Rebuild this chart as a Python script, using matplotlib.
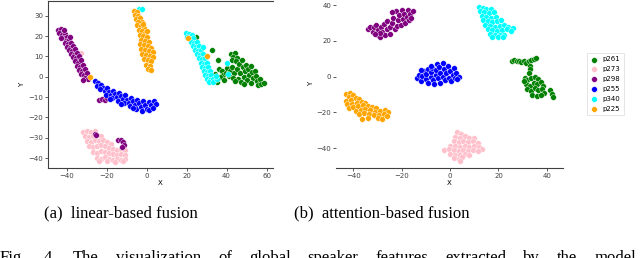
import matplotlib
matplotlib.use("Agg")
import matplotlib.pyplot as plt
import numpy as np

# speakers in legend order and their colours
speakers = ["p261", "p273", "p298", "p255", "p340", "p225"]
colors = ["green", "pink", "purple", "blue", "cyan", "orange"]

# ---- (a) linear-based fusion: t-SNE points ----
lin_p261 = np.array([
    (42, 11), (44, 11.5), (43, 9.5), (45, 9), (42.5, 8), (44.5, 7.5), (36, 4), (37.5, 3),
    (38, 1), (36.5, 0), (39.5, 2), (40, 4.5), (41.5, 3), (41, 0.5), (42.5, 5), (43.5, 2),
    (43, -0.5), (45, 4), (46, 6.5), (47.5, 8), (48, 5), (46.5, 2), (45.5, -1), (47, -2.5),
    (49, 3), (48.5, 0), (49.5, 6), (50.5, 4), (51, 1), (50, -1.5), (52, 5.5), (52.5, 2.5),
    (53, -0.5), (52, -3), (54, 3), (54.5, 0.5), (55, -2), (55.5, -4), (56.5, -1), (57, -3.5),
    (58.5, -3), (48.5, -3.5), (44, -2), (38.5, -1.5), (33, -2), (34, 1.5),
    (24.7, 19.4), (32.5, 13.2), (35.8, 8.4), (35, -2.5),
])
lin_p273 = np.array([
    (-32, -27), (-30, -26.5), (-28, -27), (-26, -26.5), (-31, -29), (-29, -29.5), (-27, -29),
    (-25, -28.5), (-23, -29), (-30, -31.5), (-28, -32), (-26, -31), (-24, -31.5), (-22, -31),
    (-20, -32), (-18, -33), (-29, -34), (-27, -34.5), (-25, -34), (-23, -33.5), (-21, -34),
    (-19, -35), (-17, -35.5), (-15, -36), (-13, -35.5), (-11, -36), (-27, -37), (-25, -37.5),
    (-23, -36.5), (-21, -37), (-19, -37.5), (-17, -38), (-15, -38.5), (-13, -38), (-11, -38.5),
    (-25, -40), (-23, -40.5), (-21, -39.5), (-19, -40.5), (-17, -41), (-15, -40.5), (-13, -41),
    (-11, -40.5), (-24, -41.5), (-20, -41.5), (-16, -41.8), (-12, -41.5), (-33, 11.6),
])
lin_p298 = np.array([
    (-44.5, 23), (-43, 23.5), (-42, 22), (-44, 21.5), (-42.5, 20.5), (-41, 21), (-41.5, 19),
    (-40, 19.5), (-43, 19), (-40.5, 17.5), (-39, 18), (-41, 16.5), (-39.5, 16), (-38, 16.5),
    (-40, 14.5), (-38.5, 14), (-37, 15), (-39, 13), (-37.5, 12.5), (-36, 13.5), (-38, 11),
    (-36.5, 10.5), (-35, 11.5), (-37, 9.5), (-35.5, 9), (-34, 10), (-36, 7.5), (-34.5, 7),
    (-33, 8), (-35, 5.5), (-33.5, 5), (-32, 6), (-34, 3.5), (-32.5, 3), (-31, 4), (-33, 1.5),
    (-31.5, 1), (-30, 2), (-31, -0.5), (-29.5, -1), (-32, -1.5), (-41.5, 23), (-38.5, 19.5),
    (-24, -11.5), (-22.5, -11), (-21, -11.5), (-20, -10.5),
    (-26, -28), (-25.5, -28.5), (-14.5, -31), (-13, -31), (-12, -32), (-11.5, -33.5), (-12.5, -34.5),
])
lin_p255 = np.array([
    (-26, -2), (-24.5, -3), (-25, -4.5), (-23, -4), (-22, -5.5), (-23.5, -6), (-21, -7),
    (-20, -5.5), (-19, -7.5), (-20.5, -9), (-18, -9), (-17, -7), (-16, -8.5), (-17.5, -10.5),
    (-15, -10), (-14, -8), (-13, -9.5), (-14.5, -12), (-12, -11), (-11, -9), (-10, -11.5),
    (-11.5, -13), (-9, -13), (-8, -10.5), (-7, -12), (-8.5, -14.5), (-6, -14), (-5, -11.5),
    (-4, -13), (-5.5, -16), (-3, -15), (-2, -12), (-1, -14), (-2.5, -17), (0, -16), (1, -12.5),
    (2, -14), (1, -16.5), (3.5, -12), (4.5, -13.5), (3, -15.5), (-18.5, -11), (-13, -13.5),
    (-7, -15.5),
])
lin_p340 = np.array([
    (19.5, 21.5), (21, 21), (22.5, 20.5), (20, 19.5), (21.5, 18.5), (23, 19), (22, 17),
    (23.5, 16.5), (25, 17), (23, 15), (24.5, 14.5), (26, 15), (24, 13), (25.5, 12.5), (27, 13),
    (28, 14.5), (25, 11), (26.5, 10.5), (28, 11), (26, 9), (27.5, 8.5), (29, 9), (27, 7),
    (28.5, 6.5), (30, 7), (27.5, 5), (29, 4.5), (30.5, 5), (28.5, 3), (30, 2.5), (31.5, 3),
    (29, 1), (30.5, 0.5), (32, 1), (30, -1), (31.5, -1.5), (33, -1), (31, -2.5), (33, -2.5),
    (35, -1), (34.5, 0.5), (40, 6.7), (40.5, 1.4), (-4, 33.5), (-2.5, 33.5),
])
lin_p225 = np.array([
    (-6.5, 32.5), (-5, 32), (-6, 30.5), (-4.5, 30), (-5.5, 28.5), (-3.5, 29), (-2.5, 27),
    (-4.5, 27), (-5, 25.5), (-3, 25), (-1.5, 24), (-4, 23), (-2.5, 22.5), (-1, 21.5),
    (-3.5, 20.5), (-2, 20), (0, 19.5), (-3, 18), (-1, 17.5), (1, 17), (-3.5, 16), (-1.5, 15.5),
    (0.5, 15), (2, 14), (-3, 13.5), (-1, 13), (1, 12.5), (3, 12), (-2.5, 11), (-0.5, 10.5),
    (1.5, 10), (3, 9.5), (-1.5, 8.5), (0.5, 8), (2, 7.5), (-0.5, 6), (1.5, 5.5), (0.5, 4),
    (2, 3.5), (-2, 26), (0, 22.5), (-28.3, -0.3), (20.5, 18.8), (30.3, 10.1),
])

# ---- (b) attention-based fusion ----
att_p261 = np.array([
    (25.5, 9), (26.5, 9.5), (27.5, 8.5), (28.5, 9), (29.5, 8), (30.5, 8.5), (31.5, 7.5),
    (32.5, 8.5), (33.5, 9.5), (34.5, 10), (35.5, 10.5), (33, 6), (33, 4), (32.5, 2), (31, -0.5),
    (32, -2), (33.5, -1), (35, 0), (36.5, -1.5), (31.5, -4), (33, -5), (34.5, -3.5), (36, -4),
    (37.5, -3), (38.5, -5), (32, -7), (33.5, -8), (35, -6.5), (36.5, -7.5), (38, -7), (39, -9),
    (34, -10.5), (36, -11), (37.5, -10), (41.5, -7.5), (42, -9.5), (42.5, -11.5), (30.5, -2.5),
])
att_p273 = np.array([
    (3, -31), (4.5, -32), (2, -33.5), (4, -34), (6, -33), (8, -34.5), (10, -34), (1.5, -36),
    (3.5, -36.5), (5.5, -36), (7.5, -36.5), (9.5, -36), (11.5, -37), (0, -38.5), (2, -38.5),
    (4, -39), (6, -38.5), (8, -39), (10, -38.5), (12, -39), (13, -40.5), (-2.5, -41),
    (-0.5, -40.5), (1.5, -41), (3.5, -41.5), (5.5, -41), (7.5, -41.5), (9.5, -41), (11.5, -41.5),
    (0, -43), (2, -43.5), (4, -43.5), (6, -43), (8, -43.5), (1.5, -45.5), (3.5, -46), (5, -45),
    (4, -47),
])
att_p298 = np.array([
    (-34, 26.5), (-33, 28), (-32, 25), (-31.5, 27.5), (-30.5, 29), (-30, 23.5), (-30, 26),
    (-29, 22), (-28.5, 27.5), (-28, 25), (-27.5, 29.5), (-27, 23), (-26, 26.5), (-26, 31),
    (-25, 28), (-25, 24), (-24, 30), (-23.5, 33), (-23, 26.5), (-22.5, 36.5), (-22, 28.5),
    (-21.5, 31.5), (-21, 34.5), (-20.5, 29), (-20, 37), (-19.5, 32), (-19, 35), (-18.5, 30),
    (-18, 33.5), (-17.5, 37), (-17, 31.5), (-16.5, 35), (-16, 33), (-15.5, 36.5), (-24, 36),
    (-29, 24.5), (-31, 24),
])
att_p255 = np.array([
    (-13.5, -1), (-13, 1), (-12, -2.5), (-11.5, 0.5), (-11, 3), (-10, -1.5), (-10, 1.5),
    (-9, 4), (-9, -3.5), (-8, 0), (-8, 2.5), (-7.5, 5), (-7, -2), (-6.5, -4), (-6, 1),
    (-6, 3.5), (-5.5, 7), (-5, -1), (-4.5, 5.5), (-4, 2), (-4, -3.5), (-3, 0), (-3, 7.5),
    (-2.5, 4), (-2, -2), (-1.5, 2), (-1, 6), (-0.5, -0.5), (0, 3), (0.5, -2.5), (1, 1),
    (1.5, 5), (2, -1), (2.5, 2), (3.5, 0), (3, -1.5), (-8, 6), (-12, 3.5),
])
att_p340 = np.array([
    (12, 39), (13.5, 38.5), (15, 38), (17, 37.5), (12.5, 36.5), (14, 36), (16, 35.5), (18, 36),
    (13, 34), (15, 33.5), (17, 33), (19, 33.5), (13.5, 31.5), (15.5, 31), (17.5, 30.5),
    (19.5, 31), (21, 31.5), (14.5, 29), (16.5, 28.5), (18.5, 28), (20.5, 28.5), (22.5, 29),
    (24, 28), (26, 27), (15.5, 26.5), (17.5, 26), (19.5, 25.5), (21.5, 26), (23.5, 26.5),
    (25, 25.5), (16.5, 24), (18.5, 23.5), (20.5, 23), (22.5, 23.5), (17.5, 22), (20, 22), (22, 22),
])
att_p225 = np.array([
    (-43, -9.5), (-41.5, -9), (-42, -11.5), (-40, -10.5), (-43, -13.5), (-41, -13), (-39, -12),
    (-37.5, -12.5), (-42.5, -15.5), (-40.5, -15), (-38.5, -14.5), (-36.5, -14), (-35, -14.5),
    (-42, -17.5), (-40, -17), (-38, -16.5), (-36, -16), (-34, -16.5), (-32.5, -17), (-30.5, -17.5),
    (-39, -19), (-37, -18.5), (-35, -18), (-33, -18.5), (-31, -19.5), (-29, -19), (-27, -18.5),
    (-25.5, -20), (-37.5, -21), (-35.5, -20.5), (-33.5, -21), (-31.5, -21.5), (-29.5, -21.5),
    (-27.5, -21), (-26, -22), (-36.5, -23.5), (-34, -23), (-30, -23), (-28, -23.5),
])

lin_sets = [lin_p261, lin_p273, lin_p298, lin_p255, lin_p340, lin_p225]
att_sets = [att_p261, att_p273, att_p298, att_p255, att_p340, att_p225]

lin_xticks = [-40, -20, 0, 20, 40, 60]
lin_yticks = [30, 20, 10, 0, -10, -20, -30, -40]
att_xticks = [-40, -20, 0, 20, 40]
att_yticks = [40, 20, 0, -20, -40]

fig_caption = "Fig. 4.  The visualization of global speaker features extracted by the model"


def scatter_panel(ax, sets):
    """Draw the six speaker clusters."""
    handles = []
    for pts, c, name in zip(sets, colors, speakers):
        h = ax.scatter(pts[:, 0], pts[:, 1], s=17, color=c, edgecolor='white',
                       linewidth=0.3, label=name)
        handles.append(h)
    return handles


def style_axes(ax, xticks, yticks):
    ax.set_xticks(xticks)
    ax.set_yticks(yticks)
    ax.tick_params(labelsize=5, length=2, width=0.6, pad=1.5, colors='0.25')
    ax.set_xlabel('X', fontsize=5, labelpad=1)
    ax.set_ylabel('Y', fontsize=5, labelpad=2)
    for sp in ax.spines.values():
        sp.set_color('0.25')
        sp.set_linewidth(0.8)


fig = plt.figure(figsize=(6.4, 2.58), dpi=100)

# left panel
ax1 = fig.add_axes([48 / 640, 1 - 168 / 258, 225 / 640, 167 / 258])
scatter_panel(ax1, lin_sets)
ax1.set_xlim(-49.3, 63.2)
ax1.set_ylim(-44.8, 37.2)
style_axes(ax1, lin_xticks, lin_yticks)
ax1.spines['right'].set_visible(False)

# right panel
ax2 = fig.add_axes([336 / 640, 1 - 168 / 258, 227 / 640, 168 / 258])
handles = scatter_panel(ax2, att_sets)
ax2.set_xlim(-47.2, 46.7)
ax2.set_ylim(-51, 42.8)
style_axes(ax2, att_xticks, att_yticks)
for side in ['left', 'top', 'right']:
    ax2.spines[side].set_visible(False)

leg = fig.legend(handles=handles, loc='center left', bbox_to_anchor=(587 / 640, 1 - 84 / 258),
                 fontsize=5, markerscale=1.0, handlelength=1.0, handletextpad=0.7,
                 labelspacing=0.55, frameon=True, fancybox=False, borderpad=0.5,
                 borderaxespad=0.0)
leg.get_frame().set_edgecolor('0.85')
leg.get_frame().set_linewidth(0.6)

# captions
serif = 'Liberation Serif'
fig.text(121 / 640, 1 - 213 / 258, '(a)  linear-based fusion', ha='center', va='center',
         fontsize=12, family=serif)
fig.text(382 / 640, 1 - 213 / 258, '(b)  attention-based fusion', ha='center', va='center',
         fontsize=12, family=serif)

# justified figure caption line, cut by the bottom edge as in the page scan
words = fig_caption.split()
fig.canvas.draw()
renderer = fig.canvas.get_renderer()
items = [fig.text(0, 0, w, fontsize=12, family=serif, va='baseline') for w in words]
widths = [t.get_window_extent(renderer).width for t in items]
gap = (636 - sum(widths)) / (len(words) - 1)
x = 0.0
for t, w in zip(items, widths):
    t.set_position((x / 640, (258 - 261.5) / 258))
    x += w + gap

plt.savefig('out.png', dpi=100)
print("saved out.png")
